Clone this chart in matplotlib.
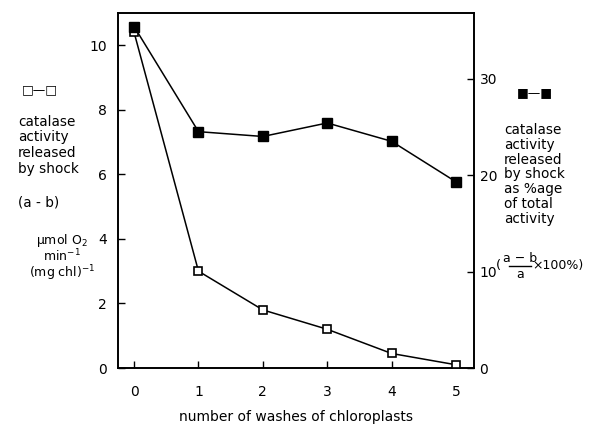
import matplotlib
matplotlib.use("Agg")
import matplotlib.pyplot as plt

washes = [0, 1, 2, 3, 4, 5]
released = [10.4, 3.0, 1.8, 1.2, 0.45, 0.1]          # left axis, open squares
percent_released = [35.4, 24.5, 24.0, 25.4, 23.5, 19.3]  # right axis, filled squares
left_ticks = [0, 2, 4, 6, 8, 10]
right_ticks = [0, 10, 20, 30]

plt.rcParams['font.family'] = ['DejaVu Sans']
fig = plt.figure(figsize=(5.94, 4.34), dpi=100)
W, H = 594, 434
ax = fig.add_axes([118 / W, 1 - 368 / H, (474 - 118) / W, (368 - 13) / H])
ax2 = ax.twinx()

ax.plot(washes, released, '-', color='black', lw=1.1, marker='s', ms=6,
        mfc='white', mec='black', mew=1.2, zorder=3)
ax2.plot(washes, percent_released, '-', color='black', lw=1.1, marker='s', ms=7,
         mfc='black', mec='black', zorder=3)

ax.set_xlim(-0.25, 5.28)
ax.set_ylim(0, 11)
ax2.set_ylim(0, 36.8)
ax.set_xticks(washes)
ax.set_yticks(left_ticks)
ax2.set_yticks(right_ticks)
for a in (ax, ax2):
    a.tick_params(direction='in', length=5, width=1, labelsize=10, pad=8)
    for s in a.spines.values():
        s.set_linewidth(1.2)
ax2.tick_params(axis='y', pad=4)
ax.tick_params(axis='x', pad=12)

ax.set_xlabel('number of washes of chloroplasts', fontsize=10, labelpad=8)

fs = 9.8
def t(x, y, s, **kw):
    fig.text(x / W, 1 - y / H, s, fontsize=kw.pop('fontsize', fs), va='center', **kw)

# left legend / label
t(22, 90, '□—□', fontsize=9)
for i, line in enumerate(['catalase', 'activity', 'released', 'by shock']):
    t(18, 122 + i * 15.5, line)
t(18, 203, '(a - b)')
t(62, 240, 'μmol O$_2$', ha='center', fontsize=9)
t(62, 256, 'min$^{-1}$', ha='center', fontsize=9)
t(62, 273, '(mg chl)$^{-1}$', ha='center', fontsize=9)

# right legend / label
t(517, 93, '■—■', fontsize=9)
for i, line in enumerate(['catalase', 'activity', 'released', 'by shock',
                          'as %age', 'of total', 'activity']):
    t(504, 130 + i * 14.8, line)
# (a - b)/a x100%
t(496, 266, '(', fontsize=9.5)
t(520, 258, 'a − b', ha='center', fontsize=9)
fig.add_artist(plt.Line2D([509 / W, 531 / W], [1 - 266 / H, 1 - 266 / H],
                          color='black', lw=1))
t(520, 274, 'a', ha='center', fontsize=9)
t(532, 266, '×100%)', fontsize=9)

fig.savefig('out.png', dpi=100)
